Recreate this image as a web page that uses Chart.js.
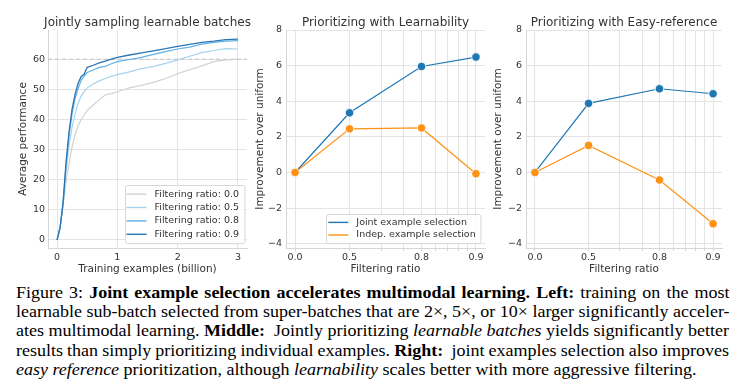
<!DOCTYPE html>
<html>
<head>
<meta charset="utf-8">
<script src="https://cdn.jsdelivr.net/npm/chart.js@4.4.1/dist/chart.umd.min.js"></script>
<style>
  html, body { margin: 0; padding: 0; background: #fff; }
  #page { position: relative; width: 748px; height: 389px; overflow: hidden; }
  #page canvas { position: absolute; top: 0; }
  #caption {
    position: absolute; left: 16px; top: 283px; width: 634px;
    transform: scaleX(1.125); transform-origin: 0 0;
    font-family: 'Liberation Serif', 'Times New Roman', serif;
    font-size: 16px; line-height: 19.2px; color: #000;
  }
  #caption div { white-space: nowrap; }
</style>
</head>
<body>
<div id="page">
  <canvas id="leftChart" width="295" height="276" style="left:0px"></canvas>
  <canvas id="midChart" width="291" height="276" style="left:240px"></canvas>
  <canvas id="rightChart" width="268" height="276" style="left:490px"></canvas>
  <div id="caption">
    <div><span>Figure 3: <b>Joint example selection accelerates multimodal learning. Left:</b> training on the most</span></div>
    <div><span>learnable sub-batch selected from super-batches that are 2&times;, 5&times;, or 10&times; larger significantly acceler-</span></div>
    <div><span>ates multimodal learning. <b>Middle:</b>&nbsp; Jointly prioritizing <i>learnable batches</i> yields significantly better</span></div>
    <div><span>results than simply prioritizing individual examples. <b>Right:</b>&nbsp; joint examples selection also improves</span></div>
    <div class="last"><span><i>easy reference</i> prioritization, although <i>learnability</i> scales better with more aggressive filtering.</span></div>
  </div>
</div>
<script>
// ---- left panel: performance vs training examples ----
const trainExamples = [0, 0.05, 0.1, 0.15, 0.2, 0.25, 0.3, 0.35, 0.4, 0.45, 0.5, 0.6, 0.7, 0.8, 0.9, 1.0, 1.2, 1.4, 1.6, 1.8, 2.0, 2.2, 2.4, 2.6, 2.8, 3.0];
const perfRatio00 = [0, 4, 11.5, 19.5, 25.5, 31, 35, 38, 40, 41.5, 43, 44.8, 46.5, 48.2, 48.6, 49.2, 50.5, 51.3, 52.3, 53.6, 55.2, 56.5, 57.8, 59.2, 59.8, 60.0];
const perfRatio05 = [0, 4.5, 12, 23, 31.5, 37.5, 42, 45.5, 47.8, 49.3, 50.5, 51.8, 52.8, 53.6, 54.3, 54.9, 55.8, 56.9, 57.6, 58.6, 59.8, 61, 62.2, 62.9, 63.5, 63.4];
const perfRatio08 = [0, 4, 12, 25, 35, 42, 47, 50.3, 53, 54.5, 55.6, 56.4, 57.3, 57.6, 58.5, 59.2, 59.9, 60.6, 61.6, 62.5, 63.4, 64, 65, 65.6, 66, 66.2];
const perfRatio09 = [0, 4, 12.5, 26, 36, 43.5, 48.5, 52, 54.3, 55, 57.3, 58, 58.8, 59.4, 60, 60.6, 61.4, 62.1, 62.8, 63.5, 64.3, 64.9, 65.6, 66, 66.5, 66.7];
const baselineLevel = 60;
const trainTicks = [0, 1, 2, 3];
const perfTicks = [0, 10, 20, 30, 40, 50, 60];

// ---- middle / right panels: improvement vs filtering ratio ----
const filteringLabels = ['0.0', '0.5', '0.8', '0.9'];
const superBatchSize = [1, 2, 5, 10];   // 1 / (1 - ratio), the axis is log in this
const learnJoint = [0, 3.35, 5.95, 6.48];
const learnIndep = [0, 2.45, 2.5, -0.07];
const easyJoint = [0, 3.88, 4.7, 4.42];
const easyIndep = [0, 1.52, -0.42, -2.88];
const improveTicks = [-4, -2, 0, 2, 4, 6, 8];
const logGridTicks = [1, 2, 3, 4, 5, 6, 7, 8, 9, 10];

const FONT = "'DejaVu Sans', sans-serif";
const TEXT = '#333';
const GRID = '#e4e4e4';
const BLUE = '#1f77b4';
const ORANGE = '#fd9214';
const CAPTION_WIDTH = 634;

function pts(xs, ys) { return xs.map((x, i) => ({ x: x, y: ys[i] })); }
function fmtMinus(v) { return v < 0 ? '\u2212' + Math.abs(v) : String(v); }

// title centred over the plot area (not the canvas)
const centerTitle = {
    id: 'centerTitle',
    afterDraw(chart, args, opts) {
        const { ctx, chartArea } = chart;
        ctx.save();
        ctx.font = '12px ' + FONT;
        ctx.fillStyle = TEXT;
        ctx.textAlign = 'center';
        ctx.textBaseline = 'middle';
        ctx.fillText(opts.text, (chartArea.left + chartArea.right) / 2, 22.7);
        ctx.restore();
    }
};

// legend box drawn inside the plot, bottom right
const boxLegend = {
    id: 'boxLegend',
    afterDraw(chart, args, opts) {
        if (!opts.show) return;
        const { ctx, chartArea } = chart;
        const items = chart.data.datasets.filter(d => d.label);
        ctx.save();
        ctx.font = '9.5px ' + FONT;
        const textW = Math.max(...items.map(d => ctx.measureText(d.label).width));
        const w = 2 + 20 + 8 + textW + 5;
        const h = opts.padY * 2 + opts.rowH * (items.length - 1);
        const x = chartArea.right - opts.right - w;
        const y = chartArea.bottom - opts.bottom - h;
        ctx.fillStyle = 'rgba(255,255,255,0.85)';
        ctx.strokeStyle = '#d8d8d8';
        ctx.lineWidth = 1;
        ctx.beginPath();
        ctx.roundRect(Math.round(x) + 0.5, Math.round(y) + 0.5, w, h, 2);
        ctx.fill();
        ctx.stroke();
        items.forEach((d, i) => {
            const cy = y + opts.padY + i * opts.rowH;
            ctx.strokeStyle = d.borderColor;
            ctx.lineWidth = 1.4;
            ctx.beginPath();
            ctx.moveTo(x + 2, cy);
            ctx.lineTo(x + 22, cy);
            ctx.stroke();
            ctx.fillStyle = TEXT;
            ctx.textBaseline = 'middle';
            ctx.textAlign = 'left';
            ctx.fillText(d.label, x + 30, cy);
        });
        ctx.restore();
    }
};

// 1. Left chart
new Chart(document.getElementById('leftChart'), {
    type: 'line',
    data: {
        datasets: [
            { data: [{ x: -0.15, y: baselineLevel }, { x: 3.15, y: baselineLevel }], borderColor: '#c4c4c4', borderWidth: 1, borderDash: [4, 3], pointRadius: 0, order: 5 },
            { label: 'Filtering ratio: 0.0', data: pts(trainExamples, perfRatio00), borderColor: '#d2d2d2', borderWidth: 1.2, pointRadius: 0, order: 4 },
            { label: 'Filtering ratio: 0.5', data: pts(trainExamples, perfRatio05), borderColor: '#a6d3ee', borderWidth: 1.2, pointRadius: 0, order: 3 },
            { label: 'Filtering ratio: 0.8', data: pts(trainExamples, perfRatio08), borderColor: '#62b0e4', borderWidth: 1.2, pointRadius: 0, order: 2 },
            { label: 'Filtering ratio: 0.9', data: pts(trainExamples, perfRatio09), borderColor: '#2a75b3', borderWidth: 1.3, pointRadius: 0, order: 1 }
        ]
    },
    options: {
        responsive: false, animation: false, devicePixelRatio: 1,
        layout: { padding: { left: 0, right: 48, top: 30, bottom: 0 } },
        plugins: {
            legend: { display: false }, tooltip: { enabled: false }, title: { display: false },
            centerTitle: { text: 'Jointly sampling learnable batches' },
            boxLegend: { show: true, right: 3, bottom: 4.7, rowH: 13.4, padY: 9 }
        },
        scales: {
            x: {
                type: 'linear', min: -0.15, max: 3.15,
                afterBuildTicks: s => { s.ticks = trainTicks.map(v => ({ value: v })); },
                afterFit: s => { s.height = 28; },
                grid: { color: GRID, drawTicks: false },
                border: { display: true, color: '#d6d6d6' },
                ticks: { padding: 4, color: TEXT, font: { family: FONT, size: 9.5 } },
                title: { display: true, text: 'Training examples (billion)', color: TEXT, font: { family: FONT, size: 10.5 }, padding: { top: 0, bottom: 0.4 } }
            },
            y: {
                min: -2.66, max: 69.7,
                afterBuildTicks: s => { s.ticks = perfTicks.map(v => ({ value: v })); },
                afterFit: s => { s.width = 48; },
                grid: { color: GRID, drawTicks: false },
                border: { display: true, color: '#d6d6d6' },
                ticks: { padding: 3, color: TEXT, font: { family: FONT, size: 9.5 } },
                title: { display: true, text: 'Average performance', color: TEXT, font: { family: FONT, size: 10.5 }, padding: { top: 17, bottom: 0 } }
            }
        }
    },
    plugins: [centerTitle, boxLegend]
});

// 2. Middle and right charts share a layout
function ratioChart(id, title, joint, indep, yWidth, titlePad, padRight, withLegend) {
    return new Chart(document.getElementById(id), {
        type: 'line',
        data: {
            datasets: [
                { label: 'Joint example selection', data: pts(superBatchSize, joint), borderColor: BLUE, backgroundColor: BLUE, borderWidth: 1.2,
                  pointRadius: 4.2, pointBackgroundColor: BLUE, pointBorderColor: '#fff', pointBorderWidth: 0.8, order: 2 },
                { label: 'Indep. example selection', data: pts(superBatchSize, indep), borderColor: ORANGE, backgroundColor: ORANGE, borderWidth: 1.2,
                  pointRadius: 4.2, pointBackgroundColor: ORANGE, pointBorderColor: '#fff', pointBorderWidth: 0.8, order: 1 }
            ]
        },
        options: {
            responsive: false, animation: false, devicePixelRatio: 1,
            layout: { padding: { left: 0, right: padRight, top: 30, bottom: 0 } },
            plugins: {
                legend: { display: false }, tooltip: { enabled: false }, title: { display: false },
                centerTitle: { text: title },
                boxLegend: { show: withLegend, right: 4.3, bottom: 4.7, rowH: 12.6, padY: 8.3 }
            },
            scales: {
                x: {
                    type: 'logarithmic', min: 0.891, max: 11.22,
                    afterBuildTicks: s => { s.ticks = logGridTicks.map(v => ({ value: v })); },
                    afterFit: s => { s.height = 28; },
                    grid: { color: GRID, drawTicks: true, tickLength: 3, tickColor: '#d6d6d6' },
                    border: { display: true, color: '#d6d6d6' },
                    ticks: {
                        autoSkip: false, maxRotation: 0, padding: 1, color: TEXT, font: { family: FONT, size: 9.5 },
                        callback: v => { const i = superBatchSize.indexOf(v); return i >= 0 ? filteringLabels[i] : ''; }
                    },
                    title: { display: true, text: 'Filtering ratio', color: TEXT, font: { family: FONT, size: 10.5 }, padding: { top: 0, bottom: 0.4 } }
                },
                y: {
                    min: -4.24, max: 8,
                    afterBuildTicks: s => { s.ticks = improveTicks.map(v => ({ value: v })); },
                    afterFit: s => { s.width = yWidth; },
                    grid: { color: GRID, drawTicks: false },
                    border: { display: true, color: '#d6d6d6' },
                    ticks: { padding: 4, color: TEXT, font: { family: FONT, size: 9.5 }, callback: v => fmtMinus(v) },
                    title: { display: true, text: 'Improvement over uniform', color: TEXT, font: { family: FONT, size: 10.5 }, padding: { top: titlePad, bottom: 0 } }
                }
            }
        },
        plugins: [centerTitle, boxLegend]
    });
}

ratioChart('midChart', 'Prioritizing with Learnability', learnJoint, learnIndep, 46, 14.4, 46, true);
ratioChart('rightChart', 'Prioritizing with Easy-reference', easyJoint, easyIndep, 36, 2, 36, false);

// 3. Caption: stretch word gaps so every line but the last fills the width
function justifyCaption() {
    document.querySelectorAll('#caption div').forEach(div => {
        if (div.classList.contains('last')) return;
        const span = div.firstElementChild;
        span.style.wordSpacing = '0px';
        const natural = span.offsetWidth;
        const gaps = (span.textContent.match(/[ \u00a0]/g) || []).length;
        if (gaps > 0) span.style.wordSpacing = ((CAPTION_WIDTH - natural) / gaps) + 'px';
    });
}
justifyCaption();
document.fonts.ready.then(justifyCaption);
</script>
</body>
</html>
